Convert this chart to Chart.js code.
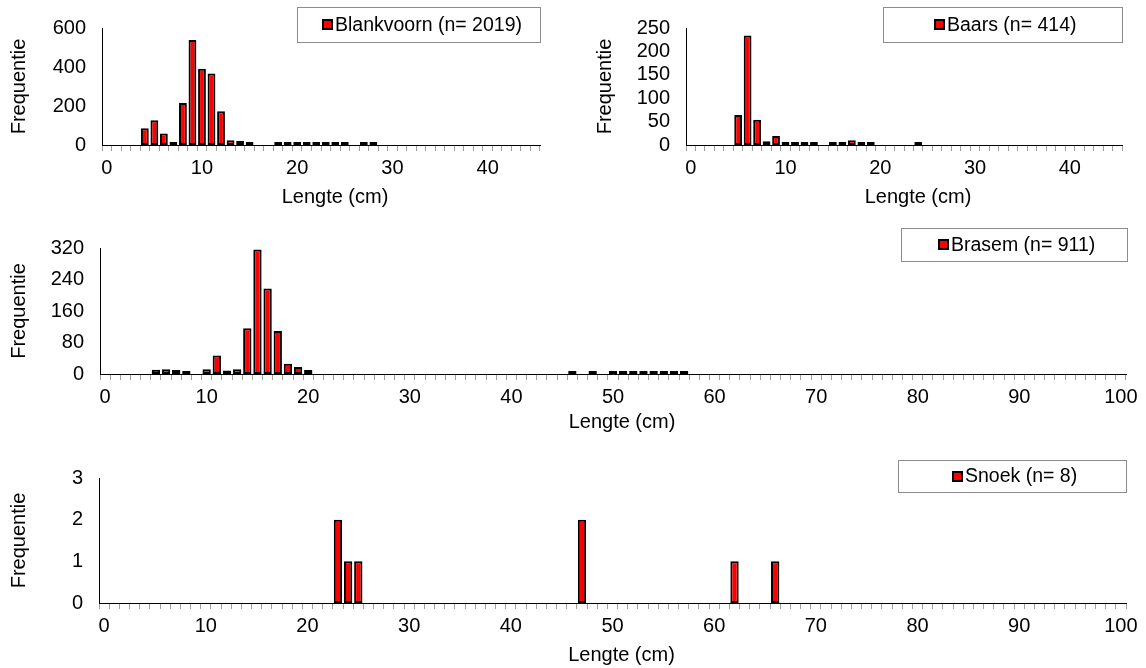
<!DOCTYPE html>
<html><head><meta charset="utf-8">
<script src="https://cdn.jsdelivr.net/npm/chart.js@4.4.0/dist/chart.umd.min.js"></script>
<style>
html,body{margin:0;padding:0;background:#fff;}
body{width:1146px;height:668px;position:relative;overflow:hidden;}
canvas{position:absolute;}
</style></head><body>
<canvas id="c1" width="560" height="215" style="left:0px;top:0px"></canvas>
<canvas id="c2" width="566" height="215" style="left:580px;top:0px"></canvas>
<canvas id="c3" width="1146" height="220" style="left:0px;top:220px"></canvas>
<canvas id="c4" width="1146" height="218" style="left:0px;top:450px"></canvas>
<script>
// ---------- DATA ----------
// length classes (cm) on the category axes
const lengthClassesShort = [0,1,2,3,4,5,6,7,8,9,10,11,12,13,14,15,16,17,18,19,20,21,22,23,24,25,26,27,28,29,30,31,32,33,34,35,36,37,38,39,40,41,42,43,44,45];
const lengthClassesLong = [0,1,2,3,4,5,6,7,8,9,10,11,12,13,14,15,16,17,18,19,20,21,22,23,24,25,26,27,28,29,30,31,32,33,34,35,36,37,38,39,40,41,42,43,44,45,46,47,48,49,50,51,52,53,54,55,56,57,58,59,60,61,62,63,64,65,66,67,68,69,70,71,72,73,74,75,76,77,78,79,80,81,82,83,84,85,86,87,88,89,90,91,92,93,94,95,96,97,98,99,100];
const xTickLabelsShort = [0,10,20,30,40];
const xTickLabelsLong = [0,10,20,30,40,50,60,70,80,90,100];

// Blankvoorn (n= 2019)
const blankvoornLengths = [4,5,6,7,8,9,10,11,12,13,14,15,18,19,20,21,22,23,24,25,27,28];
const blankvoornCounts  = [86,127,59,4,215,538,391,367,173,25,20,8,2,2,3,2,2,3,2,2,2,2];
const blankvoornTicks = [0,200,400,600];

// Baars (n= 414)
const baarsLengths = [5,6,7,8,9,10,11,12,13,15,16,17,18,19,24];
const baarsCounts  = [64,234,54,8,19,5,3,1,2,3,3,10,4,2,1];
const baarsTicks = [0,50,100,150,200,250];

// Brasem (n= 911)
const brasemLengths = [5,6,7,8,10,11,12,13,14,15,16,17,18,19,20,46,48,50,51,52,53,54,55,56,57];
const brasemCounts  = [11,12,10,3,12,47,9,12,116,316,217,109,26,18,10,1,1,1,1,1,1,1,2,1,1];
const brasemTicks = [0,80,160,240,320];

// Snoek (n= 8)
const snoekLengths = [23,24,25,47,62,66];
const snoekCounts  = [2,1,1,2,1,1];
const snoekTicks = [0,1,2,3];

// ---------- HELPERS ----------
const FONT_FAMILY = "'Liberation Sans', Arial, Helvetica, sans-serif";
const FONT_SIZE = 20;
const LEGEND_FONT_SIZE = 19.5;
const LINE_H = FONT_SIZE * 1.2;

function toSeries(classes, lengths, counts) {
  const m = new Map();
  lengths.forEach((l, i) => m.set(l, counts[i]));
  return classes.map(c => (m.has(c) ? m.get(c) : null));
}

const boxLegend = {
  id: 'boxLegend',
  afterDraw(chart, args, o) {
    const ctx = chart.ctx;
    ctx.save();
    ctx.fillStyle = '#fff';
    ctx.fillRect(o.x, o.y, o.w, o.h);
    ctx.strokeStyle = '#8c8c8c';
    ctx.lineWidth = 1;
    ctx.strokeRect(o.x + 0.5, o.y + 0.5, o.w, o.h);
    ctx.font = LEGEND_FONT_SIZE + 'px ' + FONT_FAMILY;
    const text = chart.data.datasets[0].label;
    const tw = ctx.measureText(text).width;
    const ms = 11, gap = 2;
    const sx = Math.round(o.x + (o.w - (ms + gap + tw)) / 2 + 3);
    const cy = o.y + o.h / 2;
    const my = Math.round(cy - ms / 2);
    ctx.fillStyle = '#000';
    ctx.fillRect(sx, my, ms, ms);
    ctx.fillStyle = '#ff0000';
    ctx.fillRect(sx + 2, my + 2, ms - 4, ms - 4);
    ctx.fillStyle = '#000';
    ctx.textBaseline = 'middle';
    ctx.textAlign = 'left';
    ctx.fillText(text, sx + ms + gap, cy + 1);
    ctx.restore();
  }
};

// shifts the x-axis title horizontally (Excel places it slightly right of centre)
const shiftXTitle = {
  id: 'shiftXTitle',
  afterLayout(chart, args, o) {
    const sc = chart.scales.x;
    if (sc.__wrapped) return;
    const orig = sc.drawTitle.bind(sc);
    sc.drawTitle = function () {
      const ctx = chart.ctx;
      ctx.save();
      ctx.translate(o.dx || 0, 0);
      orig();
      ctx.restore();
    };
    sc.__wrapped = true;
  }
};

function makeChart(id, cfg) {
  const canvas = document.getElementById(id);
  const Lc = cfg.canvasLeft, Tc = cfg.canvasTop, Wc = canvas.width, Hc = canvas.height;
  const font = { family: FONT_FAMILY, size: FONT_SIZE, lineHeight: 1.2 };
  const yScaleWidth = cfg.area.left - Lc;
  const xScaleHeight = Hc - (cfg.area.bottom - Tc);
  const yTitlePad = cfg.yTitleX - Lc - LINE_H / 2;
  const xTitlePadBottom = Hc - (cfg.xTitleY - Tc) - LINE_H / 2;
  const ticksY = cfg.yTicks;
  return new Chart(canvas, {
    type: 'bar',
    data: {
      labels: cfg.classes,
      datasets: [{
        label: cfg.label,
        data: toSeries(cfg.classes, cfg.lengths, cfg.counts),
        backgroundColor: '#ff0000',
        borderColor: '#000000',
        borderWidth: 2,
        borderSkipped: false,
        minBarLength: 3,
        barPercentage: 0.82,
        categoryPercentage: 1.0
      }]
    },
    options: {
      responsive: false,
      animation: false,
      devicePixelRatio: 1,
      layout: { padding: { top: cfg.area.top - Tc, right: (Lc + Wc) - cfg.area.right, left: 0, bottom: 0 } },
      plugins: {
        legend: { display: false },
        tooltip: { enabled: false },
        boxLegend: { x: cfg.legend.x - Lc, y: cfg.legend.y - Tc, w: cfg.legend.w, h: cfg.legend.h },
        shiftXTitle: { dx: cfg.xTitleShift }
      },
      scales: {
        x: {
          type: 'category',
          offset: true,
          grid: { display: true, drawOnChartArea: false, drawTicks: true, tickLength: 6, color: '#a0a0a0', offset: true },
          border: { display: true, color: '#000', width: 1 },
          ticks: {
            autoSkip: false, maxRotation: 0, minRotation: 0, padding: 5, color: '#000', font,
            callback: function (v) {
              const c = Number(this.getLabelForValue(v));
              return cfg.xTickLabels.includes(c) ? String(c) : '';
            }
          },
          title: { display: true, text: 'Lengte (cm)', color: '#000', font, padding: { top: 0, bottom: xTitlePadBottom } },
          afterFit(s) { s.height = xScaleHeight; }
        },
        y: {
          min: ticksY[0], max: ticksY[ticksY.length - 1],
          afterBuildTicks(s) { s.ticks = ticksY.map(v => ({ value: v })); },
          grid: { display: false, drawTicks: false },
          border: { display: true, color: '#000', width: 1 },
          ticks: { autoSkip: false, padding: 16, color: '#000', font },
          title: { display: true, text: 'Frequentie', color: '#000', font, padding: { top: yTitlePad, bottom: 0 } },
          afterFit(s) { s.width = yScaleWidth; }
        }
      }
    },
    plugins: [boxLegend, shiftXTitle]
  });
}

makeChart('c1', {
  canvasLeft: 0, canvasTop: 0,
  area: { left: 102, top: 18, right: 540, bottom: 145 },
  yTitleX: 19.5, xTitleY: 197, xTitleShift: 14,
  classes: lengthClassesShort, xTickLabels: xTickLabelsShort,
  label: 'Blankvoorn (n= 2019)', lengths: blankvoornLengths, counts: blankvoornCounts, yTicks: blankvoornTicks,
  legend: { x: 297, y: 7, w: 243, h: 35 }
});
makeChart('c2', {
  canvasLeft: 580, canvasTop: 0,
  area: { left: 686, top: 18, right: 1122, bottom: 145 },
  yTitleX: 605, xTitleY: 197, xTitleShift: 14,
  classes: lengthClassesShort, xTickLabels: xTickLabelsShort,
  label: 'Baars (n= 414)', lengths: baarsLengths, counts: baarsCounts, yTicks: baarsTicks,
  legend: { x: 883, y: 7, w: 239, h: 35 }
});
makeChart('c3', {
  canvasLeft: 0, canvasTop: 220,
  area: { left: 100, top: 247, right: 1126, bottom: 374 },
  yTitleX: 19.5, xTitleY: 422, xTitleShift: 9,
  classes: lengthClassesLong, xTickLabels: xTickLabelsLong,
  label: 'Brasem (n= 911)', lengths: brasemLengths, counts: brasemCounts, yTicks: brasemTicks,
  legend: { x: 901, y: 228, w: 226, h: 33 }
});
makeChart('c4', {
  canvasLeft: 0, canvasTop: 450,
  area: { left: 99, top: 475, right: 1126, bottom: 603 },
  yTitleX: 19, xTitleY: 655, xTitleShift: 9,
  classes: lengthClassesLong, xTickLabels: xTickLabelsLong,
  label: 'Snoek (n= 8)', lengths: snoekLengths, counts: snoekCounts, yTicks: snoekTicks,
  legend: { x: 898, y: 460, w: 228, h: 32 }
});
</script>
</body></html>
